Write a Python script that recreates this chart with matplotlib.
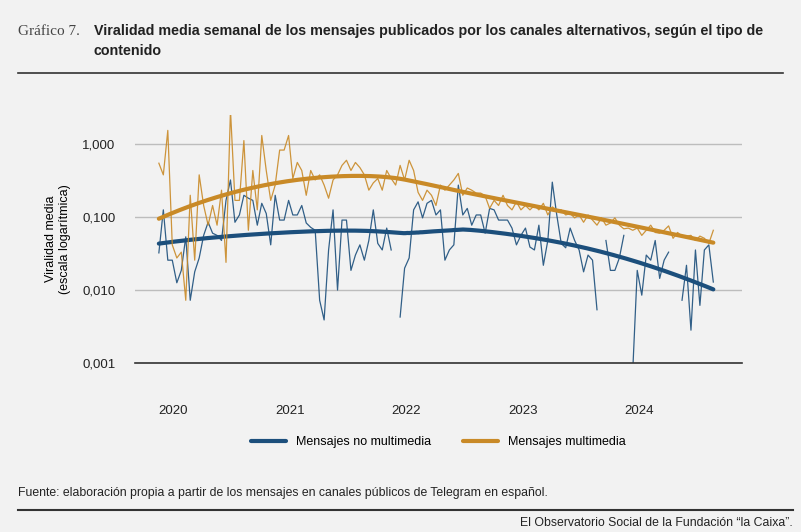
import numpy as np
import pandas as pd
import matplotlib
matplotlib.use("Agg")
import matplotlib.pyplot as plt

plt.rcParams['font.family'] = ['Liberation Sans', 'DejaVu Sans']

# biweekly dates of the series
fechas = pd.date_range("2019-11-18", periods=125, freq="14D")

# log10 of mean weekly virality
log_multimedia = [
 -0.26,-0.42,0.19,-1.38,-1.56,-1.48,-2.14,-0.70,-1.59,-0.42,-0.84,-1.11,-0.84,-1.11,-0.63,-1.62,
 0.47,-0.77,-0.77,0.05,-1.18,-0.36,-0.90,0.12,-0.36,-0.77,-0.56,-0.08,-0.08,0.12,-0.47,-0.25,
 -0.36,-0.70,-0.36,-0.49,-0.42,-0.56,-0.74,-0.49,-0.42,-0.29,-0.22,-0.36,-0.25,-0.32,-0.42,-0.63,
 -0.53,-0.47,-0.63,-0.36,-0.47,-0.56,-0.29,-0.49,-0.22,-0.36,-0.66,-0.77,-0.63,-0.70,-0.84,-0.56,
 -0.63,-0.56,-0.49,-0.40,-0.70,-0.60,-0.63,-0.67,-0.67,-0.71,-0.88,-0.77,-0.84,-0.70,-0.84,-0.90,
 -0.79,-0.90,-0.84,-0.90,-0.84,-0.90,-0.81,-0.97,-0.86,-0.90,-0.90,-0.97,-0.95,-1.01,-0.97,-1.07,
 -0.97,-1.04,-1.11,-1.01,-1.11,-1.08,-1.01,-1.11,-1.16,-1.15,-1.18,-1.15,-1.25,-1.18,-1.11,-1.21,
 -1.22,-1.18,-1.12,-1.29,-1.21,-1.26,-1.26,-1.25,-1.32,-1.26,-1.29,-1.36,-1.18]
nan = np.nan
log_no_multimedia = [
 -1.49,-0.90,-1.59,-1.59,-1.90,-1.73,-1.27,-2.14,-1.75,-1.56,-1.25,-1.07,-1.22,-1.25,-1.32,-0.77,
 -0.49,-1.07,-0.97,-0.70,-0.74,-0.77,-1.11,-0.81,-0.95,-1.38,-0.70,-1.04,-1.04,-0.77,-0.97,-0.97,
 -0.84,-1.08,-1.14,-1.18,-2.14,-2.41,-1.45,-0.90,-2.00,-1.04,-1.04,-1.73,-1.52,-1.38,-1.59,-1.32,
 -0.90,-1.36,-1.45,-1.15,-1.45,nan,-2.37,-1.70,-1.56,-0.90,-0.79,-1.01,-0.81,-0.77,-0.97,-0.90,
 -1.59,-1.45,-1.38,-0.56,-0.97,-0.88,-1.11,-0.97,-0.97,-1.22,-0.88,-0.90,-1.04,-1.04,-1.04,-1.15,
 -1.38,-1.25,-1.15,-1.41,-1.45,-1.11,-1.66,-1.32,-0.52,-0.97,-1.36,-1.42,-1.15,-1.32,-1.45,-1.75,
 -1.52,-1.59,-2.27,nan,-1.32,-1.73,-1.73,-1.56,-1.25,nan,-3.10,-1.73,-2.07,-1.52,-1.59,-1.32,
 -1.84,-1.59,-1.48,nan,nan,-2.14,-1.66,-2.55,-1.45,-2.21,-1.45,-1.38,-1.89]

series = ["Mensajes no multimedia", "Mensajes multimedia"]
colores = ["#1c4f7c", "#c98a27"]
yticks = [0.001, 0.01, 0.1, 1.0]
ytick_labels = ["0,001", "0,010", "0,100", "1,000"]
years = [2020, 2021, 2022, 2023, 2024]


def loess(x, y, xs, frac=0.9):
    n = len(x)
    k = int(np.ceil(frac * n))
    out = []
    for x0 in xs:
        d = np.abs(x - x0)
        h = np.sort(d)[k - 1] * 1.05
        w = np.clip(1 - (d / h) ** 3, 0, None) ** 3
        W = np.sqrt(w)
        A = np.vstack([np.ones_like(x), x - x0, (x - x0) ** 2]).T
        beta = np.linalg.lstsq(A * W[:, None], y * W, rcond=None)[0]
        out.append(beta[0])
    return np.array(out)


bg = "#f2f2f2"
fig = plt.figure(figsize=(8.01, 5.32), dpi=100, facecolor=bg)
ax = fig.add_axes([0.1685, 0.3177, 0.7575, 0.466], facecolor=bg)

t = fechas.year + (fechas.dayofyear - 1) / 365.25
t = np.asarray(t, dtype=float)
for lv, col, lab in zip([log_no_multimedia, log_multimedia], colores, series):
    lv = np.array(lv, dtype=float)
    ax.plot(t, 10 ** lv, color=col, lw=0.9, alpha=0.9)
    m = ~np.isnan(lv)
    ts = np.linspace(t[0], t[-1], 300)
    ax.plot(ts, 10 ** loess(t[m], lv[m], ts), color=col, lw=3, label=lab,
            solid_capstyle='round')

ax.set_yscale("log")
ax.set_ylim(0.001, 10 ** 0.4)
ax.set_xlim(2019.674, 2024.876)
ax.set_yticks(yticks)
ax.set_yticklabels(ytick_labels)
ax.yaxis.set_minor_locator(matplotlib.ticker.NullLocator())
ax.set_xticks(years)
ax.set_xticklabels([str(y) for y in years])
ax.tick_params(length=0, labelsize=9.5, colors="#222222")
ax.tick_params(axis='x', pad=30)
ax.tick_params(axis='y', pad=14)
ax.grid(axis='y', color="#bdbdbd", lw=1)
ax.set_axisbelow(True)
for s in ["top", "right", "left"]:
    ax.spines[s].set_visible(False)
ax.spines["bottom"].set_color("#333333")
ax.spines["bottom"].set_linewidth(1.2)
ax.set_ylabel("Viralidad media\n(escala logarítmica)", fontsize=9, labelpad=8)

leg = ax.legend(loc="upper center", bbox_to_anchor=(0.5, -0.25), ncol=2, frameon=False,
                fontsize=9, handlelength=2.8, columnspacing=2.5)

fig.text(0.022, 0.935, "Gráfico 7.", fontsize=11, family="Liberation Serif", color="#444444")
fig.text(0.117, 0.935, "Viralidad media semanal de los mensajes publicados por los canales alternativos, según el tipo de",
         fontsize=10.3, weight="bold", color="#222222")
fig.text(0.117, 0.897, "contenido", fontsize=10.3, weight="bold", color="#222222")
fig.add_artist(plt.Line2D([0.022, 0.978], [0.862, 0.862], color="#333333", lw=1.2))
fig.text(0.022, 0.067, "Fuente: elaboración propia a partir de los mensajes en canales públicos de Telegram en español.",
         fontsize=8.8, color="#222222")
fig.add_artist(plt.Line2D([0.022, 0.99], [0.042, 0.042], color="#333333", lw=1.5))
fig.text(0.99, 0.012, "El Observatorio Social de la Fundación “la Caixa”.", fontsize=8.8, ha="right", color="#222222")

fig.savefig("out.png", dpi=100, facecolor=bg)
